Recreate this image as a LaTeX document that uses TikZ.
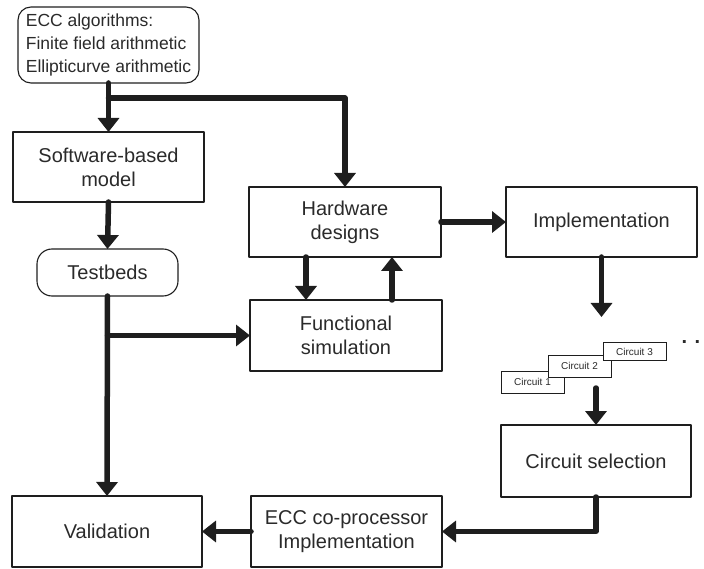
\documentclass[tikz,border=0pt]{standalone}
\usepackage{fontspec}
\setmainfont{Liberation Sans}
\usetikzlibrary{arrows.meta}
\definecolor{ink}{HTML}{1E1E1E}
\definecolor{txt}{HTML}{2A2A2A}
\begin{document}
\begin{tikzpicture}[x=1pt,y=-1pt,
  every node/.style={text=txt, inner sep=0pt, outer sep=0pt},
  stepbox/.style={draw=ink, line width=2.8pt, align=center, line join=round,
    font=\fontsize{20}{24}\selectfont},
  softbox/.style={draw=ink, line width=1.1pt, rounded corners=13pt},
  circbox/.style={draw=ink, line width=0.8pt, fill=white,
    minimum width=63pt, font=\fontsize{10}{12}\selectfont},
  flow/.style={draw=ink, line width=5.5pt, line cap=round, line join=round,
    -{Triangle[width=21pt,length=14pt]}}]
\useasboundingbox (0,0) rectangle (704,569);

% inputs
\node[softbox, minimum width=181pt, minimum height=76pt, align=left,
  font=\fontsize{17.5}{23}\selectfont] (ecc) at (108.5,45)
  {ECC algorithms:\\Finite field arithmetic\\Ellipticurve arithmetic};
\node[stepbox, minimum width=191pt, minimum height=70pt] (sw) at (108.5,167)
  {Software-based\\model};
\node[softbox, rounded corners=15pt, minimum width=141pt, minimum height=47pt,
  font=\fontsize{20}{24}\selectfont] (tb) at (107.5,272.5) {Testbeds};

% hardware flow
\node[stepbox, minimum width=192pt, minimum height=70pt] (hw) at (345,222)
  {Hardware\\designs};
\node[stepbox, minimum width=191pt, minimum height=70pt] (impl) at (601.5,222)
  {Implementation};
\node[stepbox, minimum width=192pt, minimum height=71pt] (func) at (346,335.5)
  {Functional\\simulation};
\node[stepbox, minimum width=190pt, minimum height=72pt] (cs) at (596,461)
  {Circuit selection};
\node[stepbox, minimum width=190pt, minimum height=71pt] (val) at (107,531.5)
  {Validation};
\node[stepbox, minimum width=191pt, minimum height=71pt] (ecp) at (346.5,531.5)
  {ECC co-processor\\Implementation};

% stacked circuit candidates
\node[circbox, minimum height=22pt] (c1) at (532.5,382) {Circuit 1};
\node[circbox, minimum height=22pt] (c2) at (579.5,366) {Circuit 2};
\node[circbox, minimum height=18pt] (c3) at (634.5,351.5) {Circuit 3};
\node[anchor=base, font=\fontsize{20}{24}\selectfont\bfseries] (more) at (691,343) {. .};

% junctions and free ends
\coordinate (split) at (ecc.south |- 0,98);
\coordinate (tap) at (tb.south |- func.west);
\coordinate (down) at (306,0);
\coordinate (up) at (392,0);
\coordinate (implend) at (impl.south |- 0,317);
\coordinate (circout) at (cs.north |- 0,388);

% connectors
\draw[flow] (ecc.south) -- (sw.north);
\draw[flow] (split) -| (hw.north);
\draw[flow] (sw.south) -- (tb.north);
\draw[flow] (tb.south) -- (val.north);
\draw[flow] (tap) -- (func.west);
\draw[flow] (hw.south -| down) -- (func.north -| down);
\draw[flow] (func.north -| up) -- (hw.south -| up);
\draw[flow] (hw.east) -- (impl.west);
\draw[flow] (impl.south) -- (implend);
\draw[flow] (circout) -- (cs.north);
\draw[flow] (cs.south) |- (ecp.east);
\draw[flow] (ecp.west) -- (val.east);
\end{tikzpicture}
\end{document}
